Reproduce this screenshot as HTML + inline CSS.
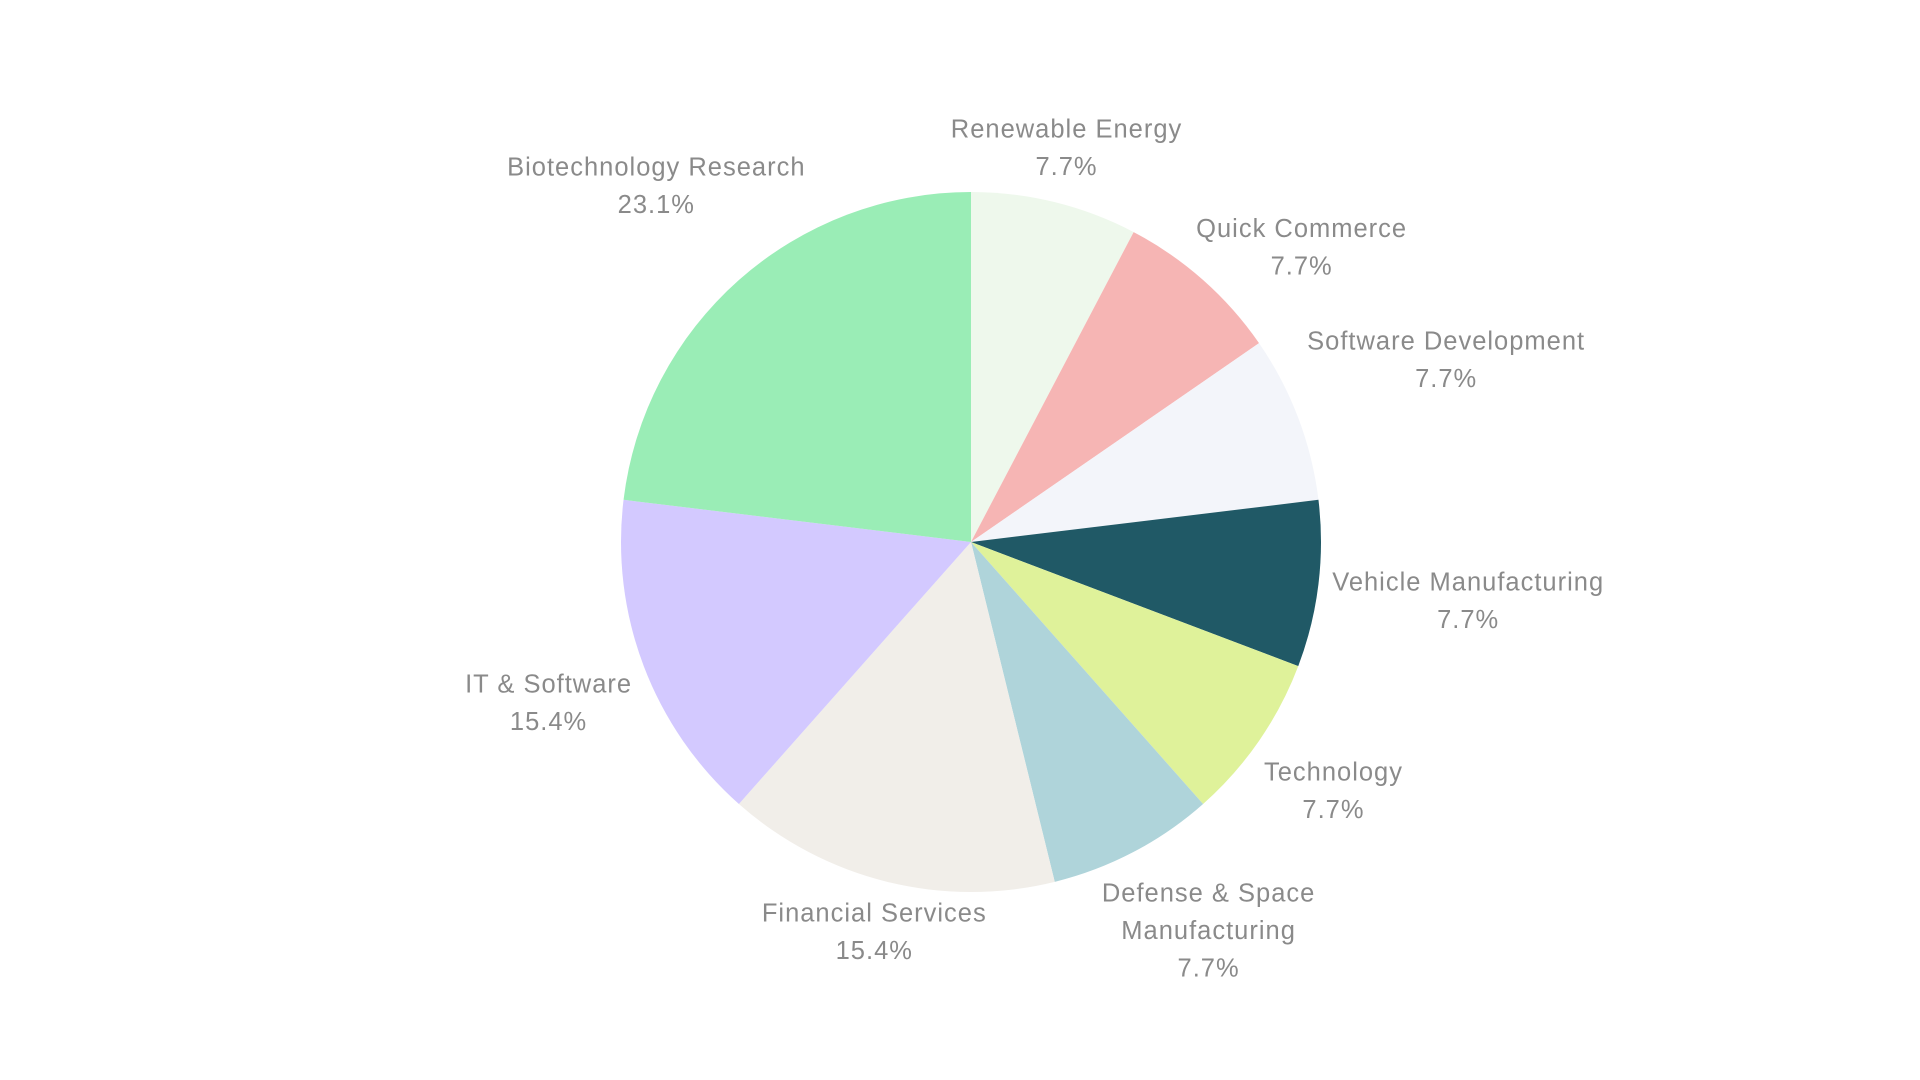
<!DOCTYPE html>
<html><head><meta charset="utf-8"><style>
html,body{margin:0;padding:0;background:#fff;width:1920px;height:1080px;overflow:hidden}
text{font-family:"Liberation Sans",sans-serif;fill:#8a8a8a;font-size:25.5px;letter-spacing:1px}
</style></head><body>
<svg id="chart" width="1920" height="1080" viewBox="0 0 1920 1080"></svg>
<script>
const categories=["Renewable Energy","Quick Commerce","Software Development","Vehicle Manufacturing","Technology","Defense & Space Manufacturing","Financial Services","IT & Software","Biotechnology Research"];
const values=[1,1,1,1,1,1,2,2,3];
const percentLabels=["7.7%","7.7%","7.7%","7.7%","7.7%","7.7%","15.4%","15.4%","23.1%"];
const colors=["#EEF8EC","#F6B5B4","#F3F5FA","#205966","#DFF29A","#AFD4DA","#F1EEE9","#D3C9FF","#9AEDB6"];
const labelLines=[["Renewable Energy"],["Quick Commerce"],["Software Development"],["Vehicle Manufacturing"],["Technology"],["Defense & Space","Manufacturing"],["Financial Services"],["IT & Software"],["Biotechnology Research"]];
const labelAnchors=[[871,105],[1063,186],[1181,278],[1199,475],[1089,630],[987,729],[714,745],[448,558],[536,136]];
const S=1.2245, cx=971, cy=542, R=350;
const svg=document.getElementById('chart');
const NS="http://www.w3.org/2000/svg";
const total=values.reduce((a,b)=>a+b,0);
function pt(a,r){return [cx+r*Math.sin(a),cy-r*Math.cos(a)];}
let acc=0;
values.forEach((v,i)=>{
  const a0=acc/total*2*Math.PI; acc+=v; const a1=acc/total*2*Math.PI;
  const p0=pt(a0,R),p1=pt(a1,R);
  const large=(a1-a0)>Math.PI?1:0;
  const path=document.createElementNS(NS,'path');
  path.setAttribute('d',`M${cx},${cy}L${p0[0]},${p0[1]}A${R},${R} 0 ${large} 1 ${p1[0]},${p1[1]}Z`);
  path.setAttribute('fill',colors[i]);
  
  
  svg.appendChild(path);
});
values.forEach((v,i)=>{
  const g=document.createElementNS(NS,'text');
  
  
  g.setAttribute('text-anchor','middle');
  const x=labelAnchors[i][0]*S, y0=labelAnchors[i][1]*S;
  const lines=labelLines[i].concat([percentLabels[i]]);
  lines.forEach((t,k)=>{
    const ts=document.createElementNS(NS,'tspan');
    ts.setAttribute('x',x);
    ts.setAttribute('y',y0+k*37.5+9);
    ts.textContent=t;
    g.appendChild(ts);
  });
  svg.appendChild(g);
});
</script>
</body></html>
